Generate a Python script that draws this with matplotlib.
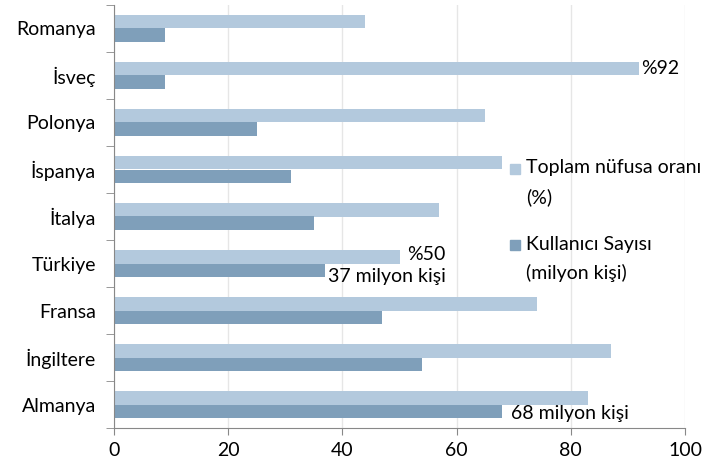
import matplotlib
matplotlib.use('Agg')
import matplotlib.pyplot as plt
from matplotlib.patches import Rectangle
import numpy as np

plt.rcParams['font.family'] = ['Lato', 'DejaVu Sans']

ulkeler = ['Romanya', 'İsveç', 'Polonya', 'İspanya', 'İtalya', 'Türkiye', 'Fransa', 'İngiltere', 'Almanya']
oran = [44, 92, 65, 68, 57, 50, 74, 87, 83]          # toplam nüfusa oranı (%)
kullanici = [9, 9, 25, 31, 35, 37, 47, 54, 68]       # kullanıcı sayısı (milyon kişi)
xticks = [0, 20, 40, 60, 80, 100]

acik = '#b3c9dd'
koyu = '#7f9fba'
fs = 14

fig = plt.figure(figsize=(7.05, 4.69), dpi=100)
ax = fig.add_axes([114/705, 1-428/469, 571/705, 423/469])

y = np.arange(len(ulkeler))
h = 0.29
ax.barh(y - h/2, oran, h, color=acik, zorder=2)
ax.barh(y + h/2, kullanici, h, color=koyu, zorder=2)

ax.set_ylim(len(ulkeler) - 0.5, -0.5)
ax.set_xlim(0, 100)
ax.set_xticks(xticks)
ax.set_yticks(y)
ax.set_yticklabels(ulkeler)
ax.set_yticks(np.arange(-0.5, len(ulkeler) + 0.5, 1), minor=True)
ax.tick_params(axis='y', which='major', length=0, pad=13, labelsize=fs)
ax.tick_params(axis='y', which='minor', length=6, color='#888888')
ax.tick_params(axis='x', length=5, color='#888888', labelsize=fs, pad=5)
ax.grid(axis='x', color='#e6e6e6', lw=1, zorder=0)
for s in ['top', 'right']:
    ax.spines[s].set_visible(False)
for s in ['left', 'bottom']:
    ax.spines[s].set_color('#888888')

# etiketler
ax.text(oran[1] + 0.3, 1 - h/2, '%92', va='center', ha='left', fontsize=fs)
ax.text(oran[5] + 1.3, 5 - h/2 - 0.05, '%50', va='center', ha='left', fontsize=fs)
ax.text(kullanici[5] + 0.4, 5 + h/2 + 0.14, '37 milyon kişi', va='center', ha='left', fontsize=fs)
ax.text(kullanici[8] + 1.5, 8 + h/2 + 0.05, '68 milyon kişi', va='center', ha='left', fontsize=fs)

# lejant
fig.patches.append(Rectangle((510/705, 1-174/469), 10/705, 10/469, transform=fig.transFigure, color=acik))
fig.text(526/705, 1-167/469, 'Toplam nüfusa oranı', va='center', fontsize=fs)
fig.text(526/705, 1-197/469, '(%)', va='center', fontsize=fs)
fig.patches.append(Rectangle((510/705, 1-250/469), 10/705, 10/469, transform=fig.transFigure, color=koyu))
fig.text(526/705, 1-244/469, 'Kullanıcı Sayısı', va='center', fontsize=fs)
fig.text(526/705, 1-273/469, '(milyon kişi)', va='center', fontsize=fs)

fig.savefig('out.png', dpi=100)
